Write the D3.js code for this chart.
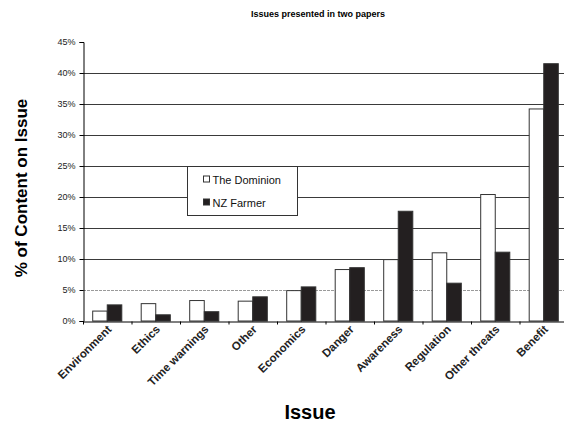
<!DOCTYPE html>
<html>
<head>
<meta charset="utf-8">
<script src="https://cdn.jsdelivr.net/npm/d3@7"></script>
<style>
  html, body { margin: 0; padding: 0; background: #fff; }
  svg { display: block; font-family: "Liberation Sans", Arial, sans-serif; }
</style>
</head>
<body>
<svg id="chart" width="564" height="426"></svg>
<script>
// Share of coverage given to each issue, by newspaper (%)
const categories = ["Environment", "Ethics", "Time warnings", "Other", "Economics",
                    "Danger", "Awareness", "Regulation", "Other threats", "Benefit"];
const seriesNames = ["The Dominion", "NZ Farmer"];
const dominion = [1.6, 2.8, 3.3, 3.2, 4.9, 8.3, 9.9, 11.0, 20.4, 34.2];
const nzFarmer = [2.6, 1.0, 1.5, 3.9, 5.5, 8.6, 17.7, 6.1, 11.1, 41.5];
const yTicks = [0, 5, 10, 15, 20, 25, 30, 35, 40, 45];

const seriesValues = [dominion, nzFarmer];
const seriesFill = ["#ffffff", "#231f20"];

const svg = d3.select("#chart");
const plot = { left: 83, right: 568, top: 42, bottom: 321 };

const x = d3.scaleBand().domain(categories).range([plot.left, plot.right]).padding(0);
const x1 = d3.scaleBand().domain(seriesNames)
  .range([x.bandwidth() * 0.2, x.bandwidth() * 0.8]).padding(0);
const y = d3.scaleLinear().domain([0, 45]).range([plot.bottom, plot.top]);

// Title
svg.append("text")
  .attr("x", 318).attr("y", 17)
  .attr("text-anchor", "middle")
  .attr("font-size", 9).attr("font-weight", "bold")
  .text("Issues presented in two papers");

// Horizontal gridlines (behind the bars)
svg.append("g").selectAll("line")
  .data(yTicks.filter(t => t > 0 && t < 45))
  .join("line")
  .attr("x1", plot.left).attr("x2", plot.right)
  .attr("y1", d => Math.round(y(d)) + 0.5).attr("y2", d => Math.round(y(d)) + 0.5)
  .attr("stroke", d => d === 5 ? "#9a9a9a" : "#3a3a3a")
  .attr("stroke-dasharray", d => d === 5 ? "3,1" : null)
  .attr("stroke-width", 1);

// Bars
const rows = categories.map((c, i) => ({ cat: c, vals: seriesValues.map(s => s[i]) }));
const groups = svg.append("g").selectAll("g")
  .data(rows).join("g")
  .attr("transform", d => `translate(${x(d.cat)},0)`);

groups.selectAll("rect")
  .data(d => d.vals.map((v, k) => ({ v, k })))
  .join("rect")
  .attr("x", d => x1(seriesNames[d.k]))
  .attr("y", d => y(d.v))
  .attr("width", x1.bandwidth())
  .attr("height", d => y(0) - y(d.v))
  .attr("fill", d => seriesFill[d.k])
  .attr("stroke", "#333")
  .attr("stroke-width", 1);

// Y axis
const yAxis = d3.axisLeft(y).tickValues(yTicks).tickSize(4).tickPadding(4)
  .tickFormat(d => d + "%");
const yg = svg.append("g").attr("transform", `translate(${plot.left + 0.5},0)`).call(yAxis);
yg.select(".domain").attr("stroke", "#000");
yg.selectAll(".tick line").attr("stroke", "#000");
yg.selectAll(".tick text").attr("font-size", 9).attr("fill", "#222")
  .attr("font-family", "Liberation Sans, Arial, sans-serif");

// X axis
const xAxis = d3.axisBottom(x).tickSize(0).tickFormat("");
const xg = svg.append("g").attr("transform", `translate(0,${plot.bottom + 0.5})`).call(xAxis);
xg.select(".domain").attr("stroke", "#000");
// boundary tick marks between categories
xg.selectAll("line.bound")
  .data(d3.range(categories.length + 1))
  .join("line").attr("class", "bound")
  .attr("x1", i => plot.left + i * x.bandwidth() + 0.5)
  .attr("x2", i => plot.left + i * x.bandwidth() + 0.5)
  .attr("y1", 0).attr("y2", 3)
  .attr("stroke", "#000");

// Rotated category labels
svg.append("g").selectAll("text")
  .data(categories).join("text")
  .attr("transform", d => `translate(${x(d) + x.bandwidth() / 2 + 5},${plot.bottom + 9}) rotate(-45)`)
  .attr("text-anchor", "end")
  .attr("font-size", 11.5)
  .attr("font-weight", "bold")
  .attr("fill", "#222")
  .text(d => d);

// Axis titles
svg.append("text")
  .attr("transform", "translate(27,188) rotate(-90)")
  .attr("text-anchor", "middle")
  .attr("font-size", 17).attr("font-weight", "bold")
  .text("% of Content on Issue");

svg.append("text")
  .attr("x", 310).attr("y", 419)
  .attr("text-anchor", "middle")
  .attr("font-size", 20).attr("font-weight", "bold")
  .text("Issue");

// Legend
const legend = svg.append("g").attr("transform", "translate(187.5,166.5)");
legend.append("rect")
  .attr("width", 110).attr("height", 49)
  .attr("fill", "#fff").attr("stroke", "#333");
const items = legend.selectAll("g.item")
  .data(seriesNames).join("g").attr("class", "item")
  .attr("transform", (d, i) => `translate(16,${13 + i * 23})`);
items.append("rect")
  .attr("x", 0).attr("y", -3.5).attr("width", 6).attr("height", 6)
  .attr("fill", (d, i) => seriesFill[i]).attr("stroke", "#333");
items.append("text")
  .attr("x", 9).attr("y", 4)
  .attr("font-size", 11).attr("fill", "#111")
  .text(d => d);
</script>
</body>
</html>
